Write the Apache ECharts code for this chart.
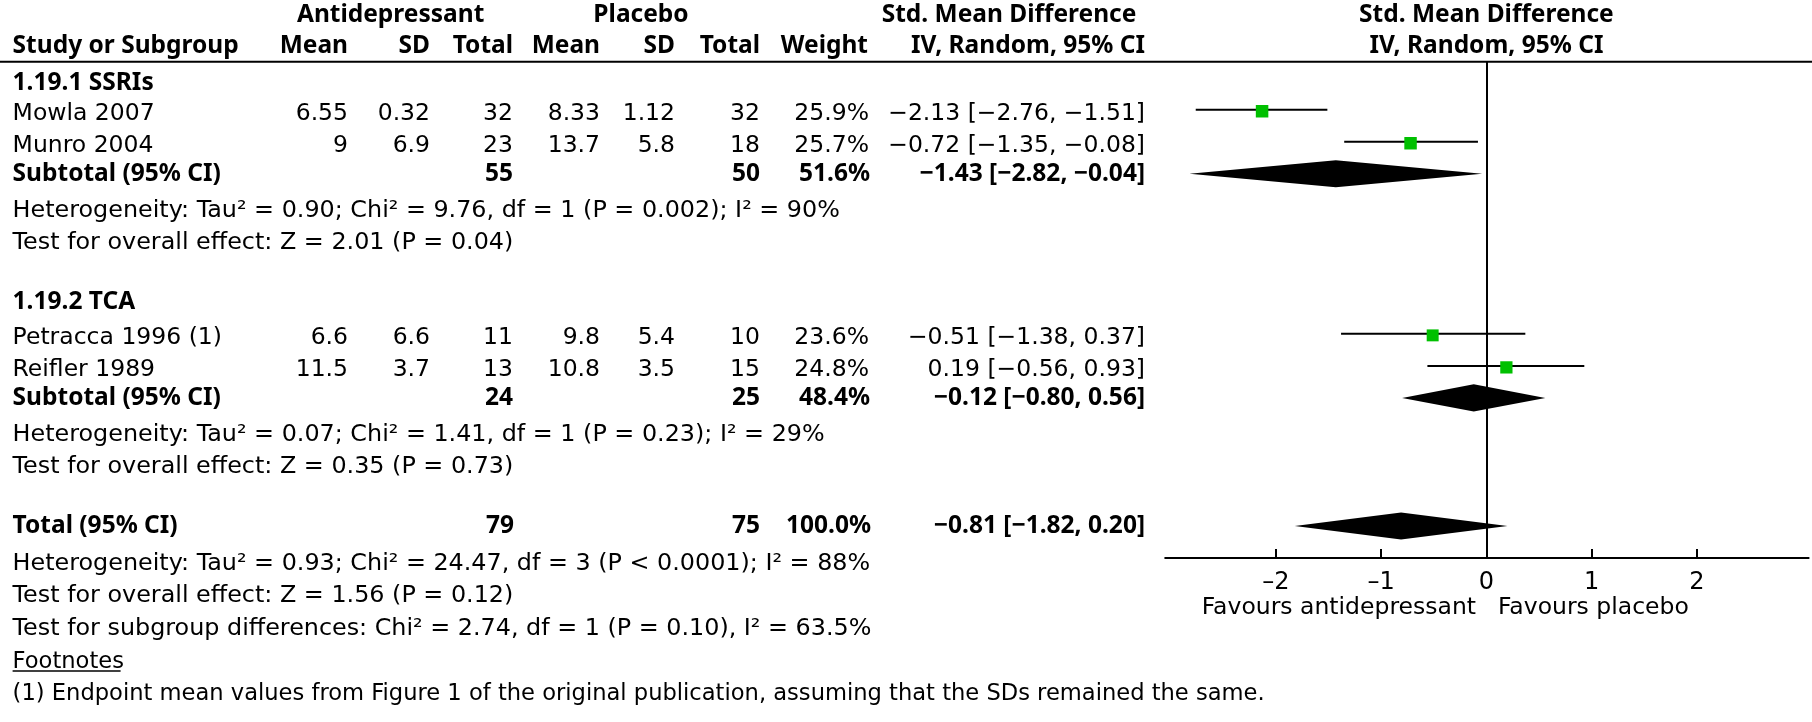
<!DOCTYPE html>
<html><head><meta charset="utf-8">
<script src="https://cdn.jsdelivr.net/npm/echarts@6/dist/echarts.min.js"></script>
<style>html,body{margin:0;padding:0;background:#fff}#c{width:1812px;height:722px}</style>
</head><body><div id="c"></div>
<script>
// ---------- data ----------
const groupNames = ['1.19.1 SSRIs', '1.19.2 TCA'];
const studyNames = ['Mowla 2007', 'Munro 2004', 'Petracca 1996 (1)', 'Reifler 1989'];
const studyGroup = [0, 0, 1, 1];
const adMean = [6.55, 9, 6.6, 11.5];
const adSD = [0.32, 6.9, 6.6, 3.7];
const adN = [32, 23, 11, 13];
const plMean = [8.33, 13.7, 9.8, 10.8];
const plSD = [1.12, 5.8, 5.4, 3.5];
const plN = [32, 18, 10, 15];
const studyWeight = [25.9, 25.7, 23.6, 24.8];
const studySMD = [-2.13, -0.72, -0.51, 0.19];
const studyLo = [-2.76, -1.35, -1.38, -0.56];
const studyHi = [-1.51, -0.08, 0.37, 0.93];

const subAdN = [55, 24];
const subPlN = [50, 25];
const subWeight = [51.6, 48.4];
const subSMD = [-1.43, -0.12];
const subLo = [-2.82, -0.80];
const subHi = [-0.04, 0.56];
const subHet = ['Heterogeneity: Tau² = 0.90; Chi² = 9.76, df = 1 (P = 0.002); I² = 90%',
                'Heterogeneity: Tau² = 0.07; Chi² = 1.41, df = 1 (P = 0.23); I² = 29%'];
const subEffect = ['Test for overall effect: Z = 2.01 (P = 0.04)',
                   'Test for overall effect: Z = 0.35 (P = 0.73)'];

const totAdN = 79, totPlN = 75, totWeight = 100.0;
const totSMD = -0.81, totLo = -1.82, totHi = 0.20;
const totHet = 'Heterogeneity: Tau² = 0.93; Chi² = 24.47, df = 3 (P < 0.0001); I² = 88%';
const totEffect = 'Test for overall effect: Z = 1.56 (P = 0.12)';
const subgroupDiff = 'Test for subgroup differences: Chi² = 2.74, df = 1 (P = 0.10), I² = 63.5%';
const footnotes = ['(1) Endpoint mean values from Figure 1 of the original publication, assuming that the SDs remained the same.'];

const xTicks = [-2, -1, 0, 1, 2];
const favours = ['Favours antidepressant', 'Favours placebo'];

// ---------- layout ----------
const W = 1812, H = 722;
const TOP = 61.7, ROW = 32.02;
const rowPx = r => TOP + (r + 0.5) * ROW;
const REG = '23.5px "DejaVu Sans"';
const REG_LINE = '23.85px "DejaVu Sans"';
const REG_FN = '22.6px "DejaVu Sans"';
const BOLD = 'bold 24.5px "Noto Sans"';
const LEFT = 12.6;
const COL = { adMean: 348, adSD: 430, adN: 513, plMean: 600, plSD: 675, plN: 760, w: 869, smd: 1145 };

const fmt2 = v => v.toFixed(2).replace('-', '\u2212');
const ciText = (e, l, h) => fmt2(e) + ' [' + fmt2(l) + ', ' + fmt2(h) + ']';
const pct = v => v.toFixed(1) + '%';

// build row plan
const rows = [];
groupNames.forEach((g, gi) => {
  rows.push({ t: 'group', g: gi });
  studyNames.forEach((s, si) => { if (studyGroup[si] === gi) rows.push({ t: 'study', i: si }); });
  rows.push({ t: 'sub', g: gi });
  rows.push({ t: 'het', g: gi });
  rows.push({ t: 'eff', g: gi });
  rows.push({ t: 'blank' });
});
rows.push({ t: 'total' }, { t: 'thet' }, { t: 'teff' }, { t: 'tsub' }, { t: 'fnhead' });
footnotes.forEach((f, k) => rows.push({ t: 'fn', k: k }));

const g = [];
function txt(s, x, y, align, font) {
  g.push({ type: 'text', x: x, y: y, silent: true,
    style: { text: s, textAlign: align, textVerticalAlign: 'middle', font: font, fill: '#000' } });
}
// headers
txt('Antidepressant', 390.6, 15.5, 'center', BOLD);
txt('Placebo', 641, 15.5, 'center', BOLD);
txt('Std. Mean Difference', 1009, 15.5, 'center', BOLD);
txt('Std. Mean Difference', 1486.4, 15.5, 'center', BOLD);
txt('Study or Subgroup', LEFT, 46, 'left', BOLD);
txt('Mean', COL.adMean, 46, 'right', BOLD);
txt('SD', COL.adSD, 46, 'right', BOLD);
txt('Total', COL.adN, 46, 'right', BOLD);
txt('Mean', COL.plMean, 46, 'right', BOLD);
txt('SD', COL.plSD, 46, 'right', BOLD);
txt('Total', COL.plN, 46, 'right', BOLD);
txt('Weight', COL.w - 1, 46, 'right', BOLD);
txt('IV, Random, 95% CI', COL.smd, 46, 'right', BOLD);
txt('IV, Random, 95% CI', 1486.4, 46, 'center', BOLD);
g.push({ type: 'line', silent: true, shape: { x1: 0, y1: TOP, x2: W, y2: TOP }, style: { stroke: '#000', lineWidth: 2 } });

const studyData = [], diamondData = [];
rows.forEach((r, ri) => {
  const y = rowPx(ri);
  if (r.t === 'group') {
    txt(groupNames[r.g], LEFT, y + (ri === 0 ? 5 : 0), 'left', BOLD);
  } else if (r.t === 'study') {
    const i = r.i, yy = y + 4.5;
    txt(studyNames[i], LEFT, yy, 'left', REG);
    txt(String(adMean[i]), COL.adMean, yy, 'right', REG);
    txt(String(adSD[i]), COL.adSD, yy, 'right', REG);
    txt(String(adN[i]), COL.adN, yy, 'right', REG);
    txt(String(plMean[i]), COL.plMean, yy, 'right', REG);
    txt(String(plSD[i]), COL.plSD, yy, 'right', REG);
    txt(String(plN[i]), COL.plN, yy, 'right', REG);
    txt(pct(studyWeight[i]), COL.w, yy, 'right', REG);
    txt(ciText(studySMD[i], studyLo[i], studyHi[i]), COL.smd, yy, 'right', REG);
    studyData.push([studySMD[i], studyLo[i], studyHi[i], ri + 0.5, studyWeight[i]]);
  } else if (r.t === 'sub') {
    txt('Subtotal (95% CI)', LEFT, y, 'left', BOLD);
    txt(String(subAdN[r.g]), COL.adN, y, 'right', BOLD);
    txt(String(subPlN[r.g]), COL.plN, y, 'right', BOLD);
    txt(pct(subWeight[r.g]), COL.w + 1, y, 'right', BOLD);
    txt(ciText(subSMD[r.g], subLo[r.g], subHi[r.g]), COL.smd, y, 'right', BOLD);
    diamondData.push([subSMD[r.g], subLo[r.g], subHi[r.g], ri + 0.5]);
  } else if (r.t === 'het') {
    txt(subHet[r.g], LEFT, y + 5, 'left', REG_LINE);
  } else if (r.t === 'eff') {
    txt(subEffect[r.g], LEFT, y + 5, 'left', REG_LINE);
  } else if (r.t === 'total') {
    txt('Total (95% CI)', LEFT, y + 0.5, 'left', BOLD);
    txt(String(totAdN), COL.adN + 1, y + 0.5, 'right', BOLD);
    txt(String(totPlN), COL.plN, y + 0.5, 'right', BOLD);
    txt(pct(totWeight), COL.w + 2, y + 0.5, 'right', BOLD);
    txt(ciText(totSMD, totLo, totHi), COL.smd, y + 0.5, 'right', BOLD);
    diamondData.push([totSMD, totLo, totHi, ri + 0.5]);
  } else if (r.t === 'thet') {
    txt(totHet, LEFT, y + 5.5, 'left', REG_LINE);
  } else if (r.t === 'teff') {
    txt(totEffect, LEFT, y + 5.5, 'left', REG_LINE);
  } else if (r.t === 'tsub') {
    txt(subgroupDiff, LEFT, y + 6.5, 'left', REG_LINE);
  } else if (r.t === 'fnhead') {
    txt('Footnotes', LEFT, y + 8, 'left', REG_FN);
    g.push({ type: 'line', silent: true, shape: { x1: LEFT, y1: y + 17, x2: LEFT + 108, y2: y + 17 }, style: { stroke: '#000', lineWidth: 1.5 } });
  } else if (r.t === 'fn') {
    txt(footnotes[r.k], LEFT, y + 8.5, 'left', REG_FN);
  }
});
// favours labels
const axisRow = 15;
txt(favours[0], 1476, rowPx(axisRow) + 50, 'right', REG);
txt(favours[1], 1498, rowPx(axisRow) + 50, 'left', REG);

const chart = echarts.init(document.getElementById('c'), null, { renderer: 'canvas', width: W, height: H });
chart.setOption({
  animation: false,
  backgroundColor: '#fff',
  grid: { left: 1165.2, right: 3.4, top: TOP, height: (axisRow + 0.5) * ROW, containLabel: false, outerBoundsMode: 'none' },
  xAxis: {
    type: 'value', min: -3.05, max: 3.06, position: 'bottom',
    axisLine: { show: true, onZero: false, lineStyle: { color: '#000', width: 2 } },
    axisTick: { show: true, inside: true, length: 9, customValues: xTicks, lineStyle: { color: '#000', width: 2 } },
    axisLabel: { show: true, customValues: xTicks, margin: 13, color: '#000', fontFamily: 'DejaVu Sans', fontSize: 24,
      formatter: v => String(v).replace('-', '–') },
    splitLine: { show: false }
  },
  yAxis: { type: 'value', inverse: true, min: 0, max: axisRow + 0.5, show: false },
  graphic: { elements: g },
  series: [
    {
      type: 'custom', name: 'studies', data: studyData,
      encode: { x: [0, 1, 2], y: 3 },
      renderItem: function (params, api) {
        const y = api.value(3);
        const p0 = api.coord([api.value(1), y]);
        const p1 = api.coord([api.value(2), y]);
        const pc = api.coord([api.value(0), y]);
        const s = 2.46 * Math.sqrt(api.value(4));
        return { type: 'group', children: [
          { type: 'line', shape: { x1: p0[0], y1: p0[1], x2: p1[0], y2: p1[1] }, style: { stroke: '#000', lineWidth: 2 } },
          { type: 'rect', shape: { x: pc[0] - s / 2, y: pc[1] - s / 2 + 1.5, width: s, height: s }, style: { fill: '#00c000' } }
        ] };
      },
      markLine: { silent: true, symbol: ['none', 'none'], label: { show: false },
        lineStyle: { color: '#000', width: 2, type: 'solid' }, data: [{ xAxis: 0 }] }
    },
    {
      type: 'custom', name: 'diamonds', data: diamondData,
      encode: { x: [0, 1, 2], y: 3 },
      renderItem: function (params, api) {
        const y = api.value(3);
        const a = api.coord([api.value(1), y]);
        const b = api.coord([api.value(0), y]);
        const c = api.coord([api.value(2), y]);
        const h = 13.6;
        return { type: 'polygon', shape: { points: [[a[0], a[1]], [b[0], b[1] - h], [c[0], c[1]], [b[0], b[1] + h]] },
          style: { fill: '#000' } };
      }
    }
  ]
});
</script></body></html>
